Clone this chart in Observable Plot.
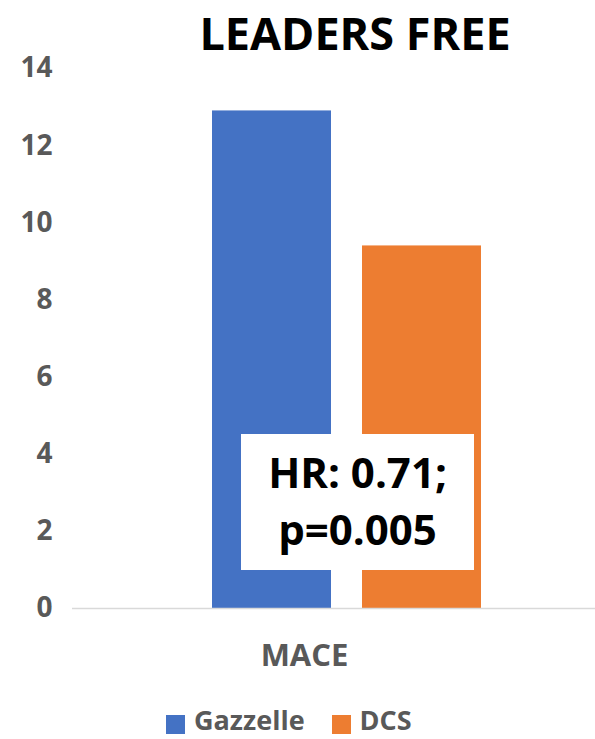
<!DOCTYPE html>
<html><head><meta charset="utf-8">
<script src="https://cdn.jsdelivr.net/npm/d3@7"></script>
<script src="https://cdn.jsdelivr.net/npm/@observablehq/plot@0.6"></script>
<style>
body{margin:0;background:#fff;}
#wrap{position:relative;width:595px;height:739px;overflow:hidden;font-family:"Open Sans",sans-serif;font-weight:700;}
#title{position:absolute;left:0;width:710px;top:2px;text-align:center;font-size:45px;color:#000;line-height:61px;white-space:nowrap;}
#chart{position:absolute;left:0;top:0;}
#note{position:absolute;left:241px;top:434px;width:233px;height:136px;box-sizing:border-box;padding-top:9px;background:#fff;color:#000;font-size:42px;line-height:57px;text-align:center;}
#legend{position:absolute;left:166px;top:705px;display:flex;align-items:flex-start;color:#595959;font-size:27px;line-height:30px;}
.sw{width:19px;height:19px;margin-top:10px;margin-right:9px;}
.item{display:flex;align-items:flex-start;margin-right:27px;}
</style></head>
<body>
<div id="wrap">
  <div id="chart"></div>
  <div id="title"></div>
  <div id="note"></div>
  <div id="legend"></div>
</div>
<script>
const titleText = "LEADERS FREE";
const categories = ["MACE"];
const series = ["Gazzelle", "DCS"];
const values = [12.9, 9.4];
const colors = ["#4472C4", "#ED7D31"];
const yTicks = [0, 2, 4, 6, 8, 10, 12, 14];
const noteLines = ["HR: 0.71;", "p=0.005"];

const data = series.map((s, i) => ({series: s, category: categories[0], value: values[i]}));

document.getElementById("title").textContent = titleText;
document.getElementById("note").innerHTML = noteLines.map(l => `<div>${l}</div>`).join("");

const chart = Plot.plot({
  width: 595,
  height: 700,
  marginLeft: 72,
  marginRight: 0,
  marginTop: 68,
  marginBottom: 92,
  style: {fontFamily: "Open Sans", fontWeight: 700, color: "#595959", background: "transparent"},
  x: {domain: series, range: [212, 481], paddingInner: 0.2067, paddingOuter: 0, round: false, axis: null},
  y: {domain: [0, 14], axis: null},
  color: {domain: series, range: colors},
  marks: [
    Plot.barY(data, {x: "series", y: "value", fill: "series"}),
    Plot.ruleY([0], {stroke: "#d9d9d9", strokeWidth: 1.5}),
    Plot.axisY(yTicks, {tickSize: 0, tickPadding: 20, fontSize: 28, fontWeight: 700, label: null}),
    Plot.text(categories, {text: d => d, frameAnchor: "bottom", dx: -29.5, dy: 57, fontSize: 31, fontWeight: 700, fill: "#595959"})
  ]
});
document.getElementById("chart").appendChild(chart);

const legend = document.getElementById("legend");
series.forEach((s, i) => {
  const item = document.createElement("div");
  item.className = "item";
  item.innerHTML = `<div class="sw" style="background:${colors[i]}"></div><span>${s}</span>`;
  legend.appendChild(item);
});
</script>
</body></html>
